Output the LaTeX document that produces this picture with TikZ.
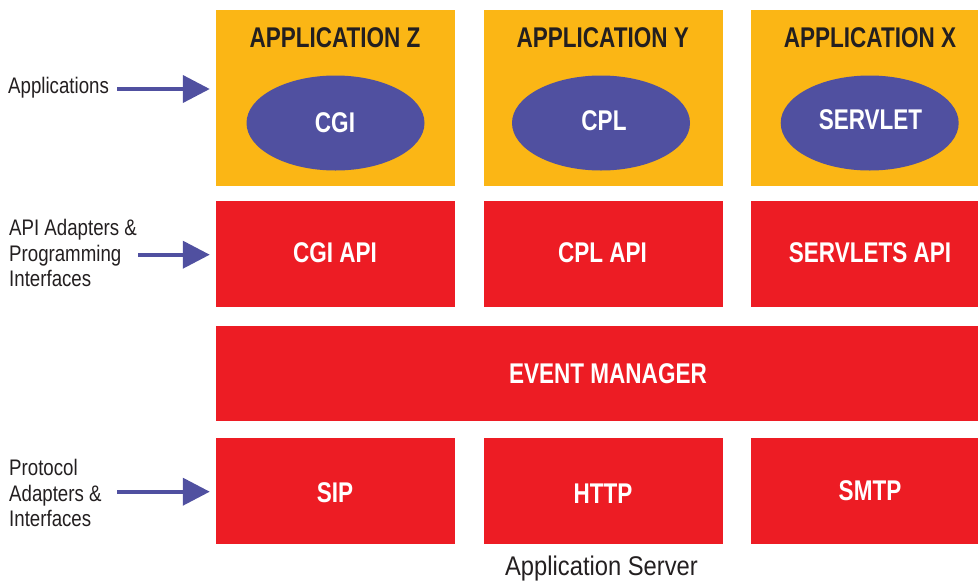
\documentclass[tikz,border=0pt]{standalone}
\usepackage{fontspec}
\setmainfont[FakeStretch=0.83]{Liberation Sans}
\newfontfamily\condbold[FakeStretch=0.79]{Liberation Sans}
\newfontfamily\capfont[FakeStretch=0.88]{Liberation Sans}
\usetikzlibrary{arrows.meta,shapes.geometric}
\definecolor{appyellow}{HTML}{FBB615}
\definecolor{layerred}{HTML}{ED1C24}
\definecolor{ovalblue}{HTML}{5050A0}
\definecolor{inkdark}{HTML}{231F20}
\begin{document}
\begin{tikzpicture}[x=1pt,y=-1pt,
  appbox/.style={fill=appyellow, draw=none, inner sep=0pt},
  redbox/.style={fill=layerred, draw=none, inner sep=0pt},
  oval/.style={ellipse, fill=ovalblue, draw=none, minimum width=178pt, minimum height=95pt, inner sep=0pt},
  titletext/.style={font=\condbold\bfseries\fontsize{28.5}{30}\selectfont, text=inkdark, inner sep=0pt},
  whitetext/.style={font=\condbold\bfseries\fontsize{28.5}{30}\selectfont, text=white, inner sep=0pt},
  sidelabel/.style={font=\fontsize{22.5}{25.8}\selectfont, text=inkdark, align=left, anchor=west, inner sep=0pt},
  arr/.style={draw=ovalblue, line width=4pt, -{Triangle[length=27pt,width=27pt]}, shorten >=6pt}
]
\useasboundingbox (0,0) rectangle (978,582);

% application row
\node[appbox, minimum width=239pt, minimum height=175.7pt] (appZ) at (335.5,97.85) {};
\node[appbox, minimum width=239pt, minimum height=175.7pt] (appY) at (603.5,97.85) {};
\node[appbox, minimum width=227pt, minimum height=175.7pt] (appX) at (864.5,97.85) {};
\node[titletext] (tZ) at (335,38) {APPLICATION Z};
\node[titletext] (tY) at (602.7,38) {APPLICATION Y};
\node[titletext] (tX) at (870,38) {APPLICATION X};
\node[oval] (cgi) at (335.5,123) {};
\node[oval] (cpl) at (601,123) {};
\node[oval] (srv) at (869.7,123) {};
\node[whitetext] (cgiT) at (335,123) {CGI};
\node[whitetext] (cplT) at (604,121) {CPL};
\node[whitetext] (srvT) at (870.5,120) {SERVLET};

% API row
\node[redbox, minimum width=239pt, minimum height=106pt] (apiZ) at (335.5,254) {};
\node[redbox, minimum width=239pt, minimum height=106pt] (apiY) at (603.5,254) {};
\node[redbox, minimum width=227pt, minimum height=106pt] (apiX) at (864.5,254) {};
\node[whitetext] (apiZT) at (335,253) {CGI API};
\node[whitetext] (apiYT) at (602.5,253) {CPL API};
\node[whitetext] (apiXT) at (870,253) {SERVLETS API};

% event manager
\node[redbox, minimum width=762pt, minimum height=94.7pt] (em) at (597,373.35) {};
\node[whitetext] (emT) at (608,374) {EVENT MANAGER};

% protocol row
\node[redbox, minimum width=239pt, minimum height=105.7pt] (sip) at (335.5,490.85) {};
\node[redbox, minimum width=239pt, minimum height=105.7pt] (http) at (603.5,490.85) {};
\node[redbox, minimum width=227pt, minimum height=105.7pt] (smtp) at (864.5,490.85) {};
\node[whitetext] (sipT) at (335,493) {SIP};
\node[whitetext] (httpT) at (603,494) {HTTP};
\node[whitetext] (smtpT) at (870,491) {SMTP};

% caption
\node[font=\capfont\fontsize{27}{30}\selectfont, text=inkdark, inner sep=0pt] (cap) at (601.5,569) {Application Server};

% side labels
\node[sidelabel] (labApp) at (8,88) {Applications};
\node[sidelabel] (labApi) at (9,253) {API Adapters \&\\Programming\\Interfaces};
\node[sidelabel] (labProto) at (9,493) {Protocol\\Adapters \&\\Interfaces};

% arrows
\coordinate (s1) at (117,89);
\coordinate (s2) at (138,254.7);
\coordinate (s3) at (117,491.7);
\draw[arr] (s1) -- (s1 -| appZ.west);
\draw[arr] (s2) -- (s2 -| apiZ.west);
\draw[arr] (s3) -- (s3 -| sip.west);
\end{tikzpicture}
\end{document}
